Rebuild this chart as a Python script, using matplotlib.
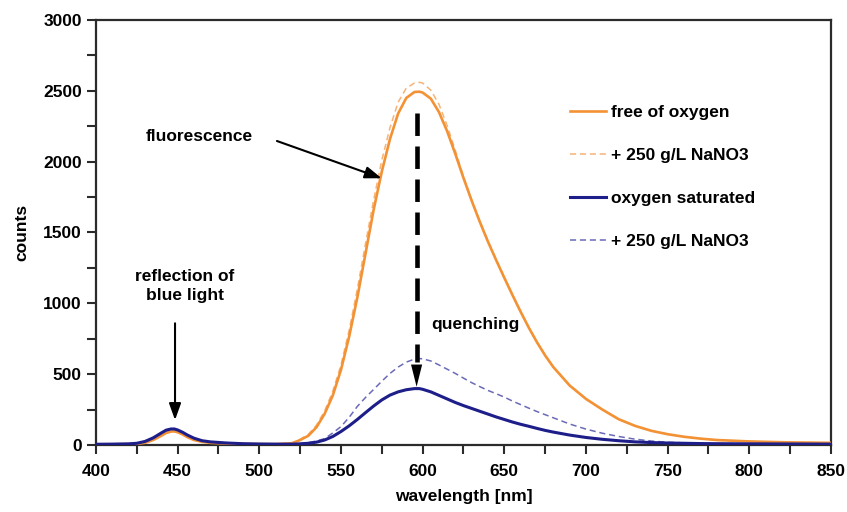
import numpy as np
import matplotlib
matplotlib.use("Agg")
import matplotlib.pyplot as plt
from matplotlib.ticker import MultipleLocator

# wavelength grid (nm) shared by all four spectra
wavelength = [400, 410, 420, 425, 430, 435, 440, 443, 446, 448, 450, 453, 456, 460, 465, 470,
              480, 490, 500, 510, 520, 525, 530, 535, 540, 545, 550, 555, 560, 565, 570, 575,
              580, 585, 590, 595, 598, 600, 605, 610, 615, 620, 625, 630, 635, 640, 645, 650,
              655, 660, 665, 670, 675, 680, 690, 700, 710, 720, 730, 740, 750, 760, 770, 780,
              800, 825, 850]

# free of oxygen
orange_solid = [5, 5, 6, 8, 15, 35, 65, 85, 95, 96, 90, 75, 55, 35, 22, 15,
                10, 7, 6, 6, 12, 35, 65, 125, 220, 350, 530, 765, 1040, 1350, 1660, 1930,
                2160, 2340, 2450, 2492, 2494, 2488, 2445, 2350, 2215, 2055, 1885, 1725, 1575, 1435, 1305, 1180,
                1058, 940, 828, 725, 632, 550, 420, 325, 250, 182, 135, 100, 76, 58, 45, 35,
                25, 18, 15]

# free of oxygen + 250 g/L NaNO3
orange_dashed = [5, 5, 6, 8, 15, 35, 65, 85, 95, 96, 90, 75, 55, 35, 22, 15,
                 10, 7, 6, 6, 14, 40, 75, 140, 240, 380, 565, 810, 1100, 1420, 1730, 2010,
                 2240, 2420, 2520, 2555, 2560, 2555, 2505, 2405, 2255, 2080, 1895, 1730, 1580, 1440, 1310, 1185,
                 1062, 944, 830, 727, 634, 552, 422, 327, 252, 183, 136, 101, 77, 58, 45, 35,
                 25, 18, 15]

# oxygen saturated
blue_solid = [5, 6, 8, 12, 25, 50, 85, 105, 113, 113, 106, 90, 70, 48, 30, 22,
              14, 9, 7, 6, 6, 8, 12, 20, 35, 60, 95, 135, 180, 228, 275, 318,
              352, 375, 390, 398, 398, 393, 375, 350, 325, 300, 278, 258, 238, 218, 198, 180,
              162, 146, 132, 117, 103, 91, 70, 53, 40, 30, 22, 17, 14, 12, 10, 9,
              8, 7, 6]

# oxygen saturated + 250 g/L NaNO3
blue_dashed = [5, 6, 8, 12, 24, 48, 82, 100, 108, 108, 102, 86, 67, 46, 29, 21,
               14, 9, 7, 6, 7, 10, 16, 28, 45, 85, 130, 195, 272, 335, 392, 450,
               505, 550, 585, 606, 610, 608, 593, 565, 535, 505, 472, 440, 412, 385, 362, 338,
               310, 285, 260, 236, 214, 192, 148, 112, 83, 60, 41, 28, 19, 15, 12, 10,
               8, 7, 6]

labels = ["free of oxygen", "+ 250 g/L NaNO3", "oxygen saturated", "+ 250 g/L NaNO3"]

plt.rcParams['font.family'] = ['Liberation Sans', 'DejaVu Sans']
plt.rcParams['font.weight'] = 'bold'
fs = 12.5
spine_col = '#2b2b2b'

fig = plt.figure(figsize=(8.47, 5.12), dpi=100)
ax = fig.add_axes([0.1133, 0.1309, 0.8678, 0.8300])

ax.plot(wavelength, orange_solid, color='#F39234', lw=1.9, label=labels[0], zorder=3)
ax.plot(wavelength, orange_dashed, color='#F6B377', lw=1.1, ls=(0, (4, 2.5)), label=labels[1], zorder=2)
ax.plot(wavelength, blue_solid, color='#1E1E8A', lw=2.2, label=labels[2], zorder=4)
ax.plot(wavelength, blue_dashed, color='#6A6AB8', lw=1.1, ls=(0, (4, 2.5)), label=labels[3], zorder=2)

ax.set_xlim(400, 850)
ax.set_ylim(0, 3000)
ax.xaxis.set_major_locator(MultipleLocator(50))
ax.xaxis.set_minor_locator(MultipleLocator(25))
ax.yaxis.set_major_locator(MultipleLocator(500))
ax.yaxis.set_minor_locator(MultipleLocator(250))
ax.tick_params(which='both', direction='out', length=6.3, width=1.5, color=spine_col,
               top=False, right=False, labelsize=fs)
ax.tick_params(axis='x', pad=7.5)
ax.tick_params(axis='y', pad=4)
for s in ax.spines.values():
    s.set_linewidth(1.6)
    s.set_color(spine_col)

ax.set_xlabel("wavelength [nm]", fontsize=fs, fontweight='bold', labelpad=7)
ax.set_ylabel("counts", fontsize=fs, fontweight='bold', labelpad=10)

# annotations
ax.text(463, 2180, "fluorescence", fontsize=fs, fontweight='bold', ha='center', va='center')
ax.annotate("", xy=(574.9, 1883), xytext=(510.8, 2146),
            arrowprops=dict(arrowstyle='-|>,head_length=0.5,head_width=0.18', color='black',
                            lw=1.5, shrinkA=0, shrinkB=0, mutation_scale=20))

ax.text(454.5, 1122, "reflection of\nblue light", fontsize=fs, fontweight='bold',
        ha='center', va='center', linespacing=1.35)
ax.annotate("", xy=(448.4, 176), xytext=(448.4, 859),
            arrowprops=dict(arrowstyle='-|>,head_length=0.5,head_width=0.18', color='black',
                            lw=1.5, shrinkA=0, shrinkB=0, mutation_scale=20))

ax.plot([596.3, 596.3], [2341, 586], color='black', lw=3.3, ls=(0, (4.9, 2.3)), zorder=5)
ax.annotate("", xy=(596.3, 411), xytext=(596.3, 586),
            arrowprops=dict(arrowstyle='-|>,head_length=0.8,head_width=0.2', color='black',
                            lw=0, shrinkA=0, shrinkB=0, mutation_scale=20), zorder=5)
ax.text(605.5, 847, "quenching", fontsize=fs, fontweight='bold', ha='left', va='center')

leg = ax.legend(loc='upper left', bbox_to_anchor=(570 / 847, 1 - 105 / 512),
                bbox_transform=fig.transFigure, frameon=False, fontsize=fs,
                handlelength=2.05, handletextpad=0.3, labelspacing=1.6, borderpad=0,
                borderaxespad=0)
for t in leg.get_texts():
    t.set_fontweight('bold')

fig.savefig("out.png", dpi=100)
